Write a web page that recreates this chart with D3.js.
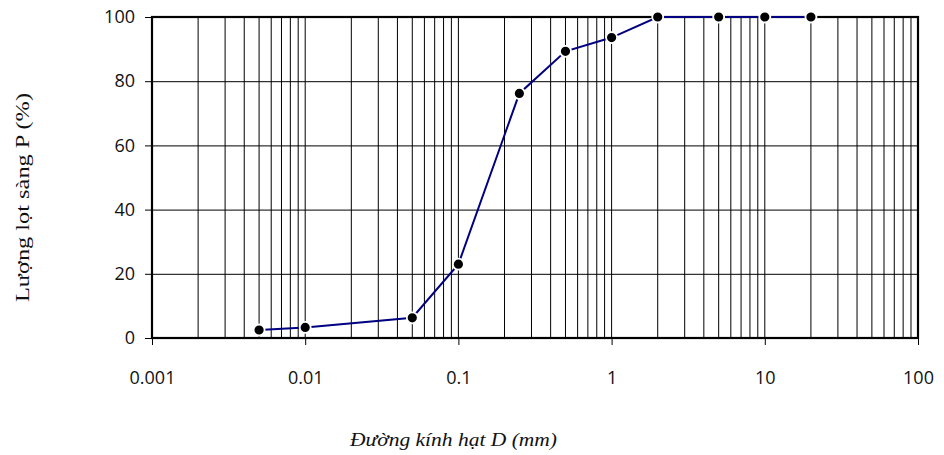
<!DOCTYPE html>
<html>
<head>
<meta charset="utf-8">
<script src="https://cdn.jsdelivr.net/npm/d3@7"></script>
<style>
  html, body { margin: 0; padding: 0; background: #fff; }
  svg { display: block; }
</style>
</head>
<body>
<svg id="chart" width="944" height="455"></svg>
<script>
// Grain size distribution (sieve analysis)
const diameters = [0.005, 0.01, 0.05, 0.1, 0.25, 0.5, 1, 2, 5, 10, 20];
const passing   = [2.5, 3.3, 6.3, 23, 76.2, 89.3, 93.6, 100, 100, 100, 100];
const xTicks = [0.001, 0.01, 0.1, 1, 10, 100];
const xTickLabels = ["0.001", "0.01", "0.1", "1", "10", "100"];
const yTicks = [0, 20, 40, 60, 80, 100];
const xTitle = "Đường kính hạt D (mm)";
const yTitle = "Lượng lọt sàng P (%)";

const svg = d3.select("#chart");
const plotL = 152, plotR = 918, plotT = 17, plotB = 338;

const x = d3.scaleLog().domain([0.001, 100]).range([plotL, plotR]);
const y = d3.scaleLinear().domain([0, 100]).range([plotB, plotT]);

// minor + major vertical grid: 1..9 × each decade
const vGrid = [];
for (let e = -3; e < 2; e++) {
  for (let m = 2; m <= 9; m++) vGrid.push(m * Math.pow(10, e));
}
xTicks.forEach(v => vGrid.push(v));

const grid = svg.append("g");
grid.selectAll("line.v").data(vGrid).join("line")
  .attr("class", "v")
  .attr("x1", d => x(d)).attr("x2", d => x(d))
  .attr("y1", plotT).attr("y2", plotB)
  .attr("stroke", "#000").attr("stroke-width", 1);
grid.selectAll("line.h").data(yTicks.slice(1, -1)).join("line")
  .attr("class", "h")
  .attr("x1", plotL).attr("x2", plotR)
  .attr("y1", d => y(d) + 0.5).attr("y2", d => y(d) + 0.5)
  .attr("stroke", "#000").attr("stroke-width", 1);

// axes
const fontTick = "'Open Sans', 'Noto Sans', sans-serif";
const yAxis = svg.append("g")
  .attr("transform", `translate(${plotL},0)`)
  .call(d3.axisLeft(y).tickValues(yTicks).tickSize(7).tickPadding(10).tickSizeOuter(0));
const xAxis = svg.append("g")
  .attr("transform", `translate(0,${plotB})`)
  .call(d3.axisBottom(x).tickValues(xTicks).tickSize(7).tickPadding(26).tickSizeOuter(0)
    .tickFormat((d, i) => xTickLabels[i]));
[yAxis, xAxis].forEach(a => {
  a.select(".domain").remove();
  a.selectAll(".tick line").attr("stroke", "#000").attr("stroke-width", 1);
  a.selectAll(".tick text")
    .attr("fill", "#111")
    .style("font-family", fontTick)
    .style("font-size", "18px");
});

// plot frame
svg.append("rect")
  .attr("x", plotL).attr("y", plotT)
  .attr("width", plotR - plotL).attr("height", plotB - plotT)
  .attr("fill", "none").attr("stroke", "#000").attr("stroke-width", 2.2);

// curve
const pts = diameters.map((d, i) => [d, passing[i]]);
svg.append("path")
  .datum(pts)
  .attr("fill", "none")
  .attr("stroke", "#000080")
  .attr("stroke-width", 2)
  .attr("d", d3.line().x(d => x(d[0])).y(d => y(d[1])));

svg.append("g").selectAll("circle").data(pts).join("circle")
  .attr("cx", d => x(d[0])).attr("cy", d => y(d[1]))
  .attr("r", 5.5)
  .attr("fill", "#000")
  .attr("stroke", "#fff").attr("stroke-width", 1.8);

// titles
svg.append("text")
  .attr("x", 350).attr("y", 446)
  .attr("textLength", 207).attr("lengthAdjust", "spacingAndGlyphs")
  .style("font-family", "'Liberation Serif', 'Times New Roman', serif")
  .style("font-style", "italic")
  .style("font-size", "18px")
  .attr("fill", "#111")
  .text(xTitle);

svg.append("text")
  .attr("transform", "translate(29,302) rotate(-90)")
  .attr("textLength", 209).attr("lengthAdjust", "spacingAndGlyphs")
  .style("font-family", "'Liberation Serif', 'Times New Roman', serif")
  .style("font-size", "19px")
  .attr("fill", "#111")
  .text(yTitle);
</script>
</body>
</html>
